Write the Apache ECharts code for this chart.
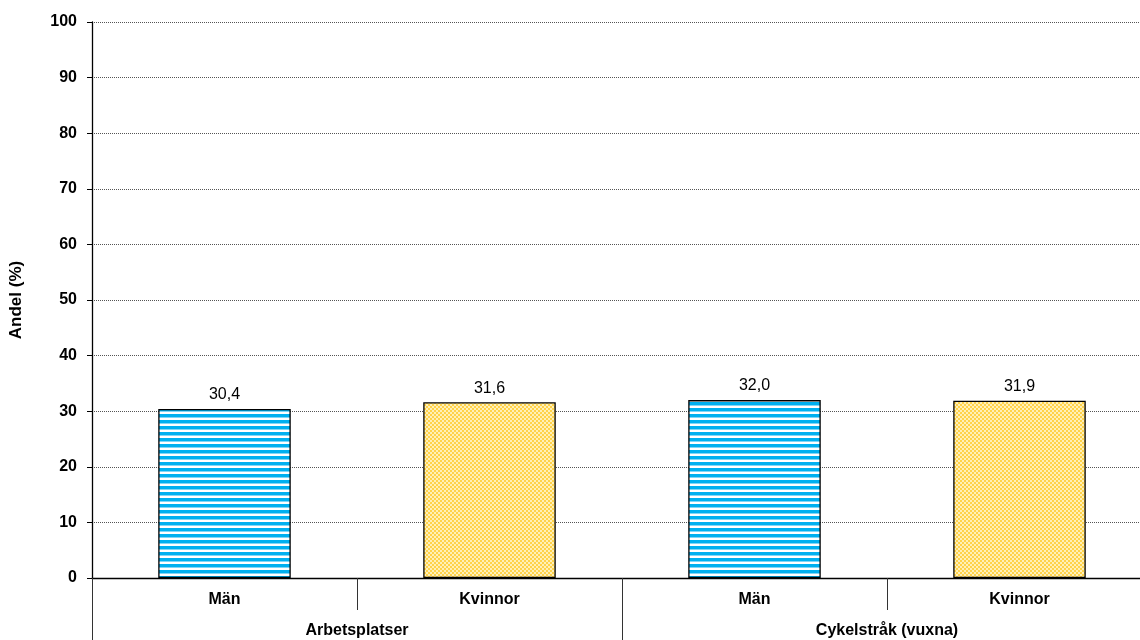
<!DOCTYPE html>
<html>
<head>
<meta charset="utf-8">
<script src="https://cdn.jsdelivr.net/npm/echarts@6/dist/echarts.min.js"></script>
<style>
  html, body { margin: 0; padding: 0; background: #fff; overflow: hidden; }
  #chart { width: 1140px; height: 640px; }
</style>
</head>
<body>
<div id="chart"></div>
<script>
// Share (%) by sex, for two locations
const subCategories = ['Män', 'Kvinnor', 'Män', 'Kvinnor'];
const groups = ['Arbetsplatser', 'Cykelstråk (vuxna)'];
const values = [30.4, 31.6, 32.0, 31.9];
const yTicks = [0, 10, 20, 30, 40, 50, 60, 70, 80, 90, 100];

const FONT = '"Liberation Sans", Arial, sans-serif';

// Horizontal blue stripes for men
function stripePattern() {
  const c = document.createElement('canvas');
  c.width = 6; c.height = 6;
  const g = c.getContext('2d');
  g.fillStyle = '#ffffff'; g.fillRect(0, 0, 6, 6);
  g.fillStyle = '#00b0f0'; g.fillRect(0, 0, 6, 3);
  g.fillStyle = '#80d6f6'; g.fillRect(0, 3, 6, 1);
  return c;
}
// Fine yellow checker for women
function checkerPattern() {
  const c = document.createElement('canvas');
  c.width = 4; c.height = 4;
  const g = c.getContext('2d');
  g.fillStyle = '#fff0b8'; g.fillRect(0, 0, 4, 4);
  g.fillStyle = '#ffd24a';
  g.fillRect(0, 0, 2, 2);
  g.fillRect(2, 2, 2, 2);
  return c;
}
const fills = {
  'Män': { image: stripePattern(), repeat: 'repeat' },
  'Kvinnor': { image: checkerPattern(), repeat: 'repeat' }
};

const chart = echarts.init(document.getElementById('chart'), null, { renderer: 'canvas' });

chart.setOption({
  animation: false,
  textStyle: { fontFamily: FONT },
  // plot area runs slightly past the right edge of the canvas
  grid: { left: 92, top: 22, width: 1060, height: 556, outerBoundsMode: 'none', containLabel: false },
  xAxis: [
    {
      type: 'category',
      data: subCategories,
      position: 'bottom',
      axisLine: { show: true, lineStyle: { color: '#000', width: 1.3 } },
      axisTick: { show: true, length: 32, lineStyle: { color: '#333', width: 1 } },
      axisLabel: { margin: 14, fontFamily: FONT, fontSize: 16, fontWeight: 'bold', color: '#000' },
      splitLine: { show: false }
    },
    {
      type: 'category',
      data: groups,
      position: 'bottom',
      axisLine: { show: false },
      axisTick: { show: true, length: 62, lineStyle: { color: '#333', width: 1 } },
      axisLabel: { margin: 45, fontFamily: FONT, fontSize: 16, fontWeight: 'bold', color: '#000' },
      splitLine: { show: false }
    }
  ],
  yAxis: {
    type: 'value',
    min: yTicks[0],
    max: yTicks[yTicks.length - 1],
    interval: 10,
    name: 'Andel (%)',
    nameLocation: 'middle',
    nameGap: 67,
    nameTextStyle: { fontFamily: FONT, fontSize: 17, fontWeight: 'bold', color: '#000' },
    axisLine: { show: true, lineStyle: { color: '#000', width: 1.3 } },
    axisTick: { show: true, length: 5, lineStyle: { color: '#000' } },
    axisLabel: { margin: 15, fontFamily: FONT, fontSize: 16, fontWeight: 'bold', color: '#000' },
    splitLine: { show: true, lineStyle: { color: '#555', type: 'dotted', width: 1 } }
  },
  series: [
    {
      type: 'bar',
      xAxisIndex: 0,
      barWidth: '50%',
      data: values.map((v, i) => ({
        value: v,
        itemStyle: { color: fills[subCategories[i]], borderColor: '#000', borderWidth: 1.3 }
      })),
      label: {
        show: true,
        position: 'top',
        distance: 6,
        fontFamily: FONT,
        fontSize: 16,
        color: '#000',
        formatter: p => p.value.toFixed(1).replace('.', ',')
      }
    }
  ]
});
</script>
</body>
</html>
